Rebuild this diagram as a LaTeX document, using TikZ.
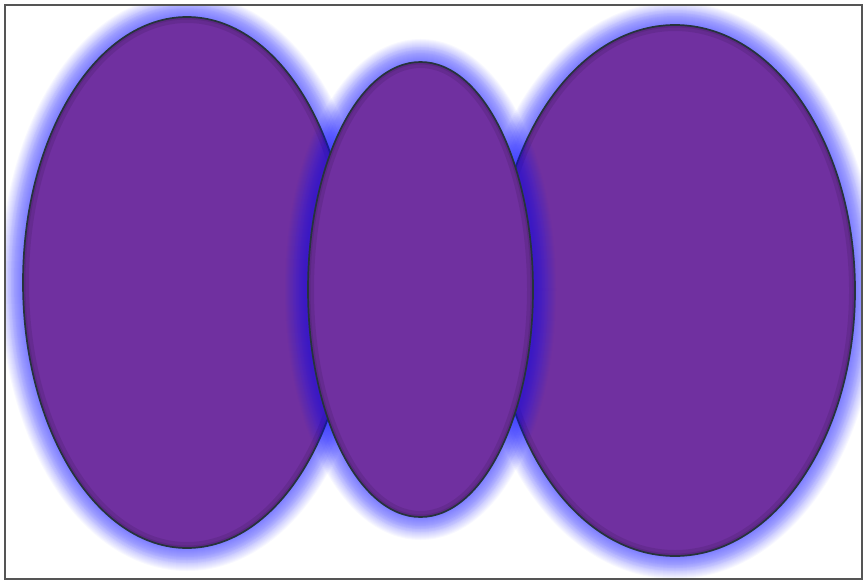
\documentclass[tikz,border=0pt]{standalone}
\definecolor{fillpurple}{HTML}{7030A0}
\definecolor{glowblue}{HTML}{1818FF}
\definecolor{edgegray}{HTML}{26333C}
\definecolor{framegray}{HTML}{555555}
\tikzset{
  glowstroke/.style={draw=glowblue, opacity=0.028},
  blobfill/.style={fill=fillpurple},
  blobedge/.style={draw=edgegray, line width=1.7pt},
  innershade/.style={draw=black, opacity=0.09},
  framebox/.style={draw=framegray, line width=1.3pt}
}
\newcommand\glowellipse[4]{%
  \foreach \w in {2,4,...,46} {%
    \draw[glowstroke, line width=\w pt] (#1,#2) ellipse [x radius=#3, y radius=#4];
  }
  \foreach \w in {18,24,30} {%
    \draw[glowstroke, line width=\w pt] (#1,#2) ellipse [x radius=#3, y radius=#4];
  }
  \fill[blobfill] (#1,#2) ellipse [x radius=#3, y radius=#4];
  \begin{scope}
    \clip (#1,#2) ellipse [x radius=#3, y radius=#4];
    \draw[innershade, line width=12pt] (#1,#2) ellipse [x radius=#3, y radius=#4];
    \draw[innershade, line width=5pt] (#1,#2) ellipse [x radius=#3, y radius=#4];
  \end{scope}
  \draw[blobedge] (#1,#2) ellipse [x radius=#3, y radius=#4];
}
\begin{document}
\begin{tikzpicture}[x=1pt, y=-1pt]
  \useasboundingbox (0,0) rectangle (866,581);
  \fill[white] (0,0) rectangle (866,581);
  \begin{scope}
    \clip (5,5) rectangle (862,579);
    % left ellipse
    \glowellipse{187}{282.5}{164}{265.5}
    % right ellipse
    \glowellipse{675}{290.5}{180}{265.5}
    % middle ellipse (on top)
    \glowellipse{420.5}{289.5}{112.5}{227.5}
  \end{scope}
  \draw[framebox] (5,5) rectangle (862,579);
\end{tikzpicture}
\end{document}
